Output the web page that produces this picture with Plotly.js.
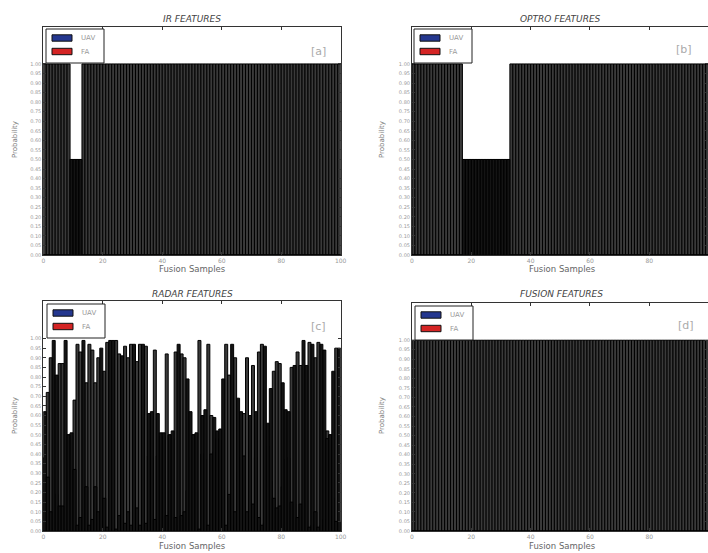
<!DOCTYPE html>
<html>
<head>
<meta charset="utf-8">
<script src="https://cdn.plot.ly/plotly-3.0.1.min.js"></script>
<style>html,body{margin:0;padding:0;background:#fff}#chart{width:708px;height:553px}</style>
</head>
<body>
<div id="chart"></div>
<script>
// ---- data ----
const samples = [
 0,1,2,3,4,5,6,7,8,9,10,11,12,13,14,15,16,17,18,19,
 20,21,22,23,24,25,26,27,28,29,30,31,32,33,34,35,36,37,38,39,
 40,41,42,43,44,45,46,47,48,49,50,51,52,53,54,55,56,57,58,59,
 60,61,62,63,64,65,66,67,68,69,70,71,72,73,74,75,76,77,78,79,
 80,81,82,83,84,85,86,87,88,89,90,91,92,93,94,95,96,97,98,99];

const irUAV = [
 1,1,1,1,1,1,1,1,1,0.5, 0.5,0.5,0.5,1,1,1,1,1,1,1,
 1,1,1,1,1,1,1,1,1,1, 1,1,1,1,1,1,1,1,1,1,
 1,1,1,1,1,1,1,1,1,1, 1,1,1,1,1,1,1,1,1,1,
 1,1,1,1,1,1,1,1,1,1, 1,1,1,1,1,1,1,1,1,1,
 1,1,1,1,1,1,1,1,1,1, 1,1,1,1,1,1,1,1,1,1];
const irFA = [
 0,0,0,0,0,0,0,0,0,0.5, 0.5,0.5,0.5,0,0,0,0,0,0,0,
 0,0,0,0,0,0,0,0,0,0, 0,0,0,0,0,0,0,0,0,0,
 0,0,0,0,0,0,0,0,0,0, 0,0,0,0,0,0,0,0,0,0,
 0,0,0,0,0,0,0,0,0,0, 0,0,0,0,0,0,0,0,0,0,
 0,0,0,0,0,0,0,0,0,0, 0,0,0,0,0,0,0,0,0,0];

const optroUAV = [
 1,1,1,1,1,1,1,1,1,1, 1,1,1,1,1,1,1,0.5,0.5,0.5,
 0.5,0.5,0.5,0.5,0.5,0.5,0.5,0.5,0.5,0.5, 0.5,0.5,0.5,1,1,1,1,1,1,1,
 1,1,1,1,1,1,1,1,1,1, 1,1,1,1,1,1,1,1,1,1,
 1,1,1,1,1,1,1,1,1,1, 1,1,1,1,1,1,1,1,1,1,
 1,1,1,1,1,1,1,1,1,1, 1,1,1,1,1,1,1,1,1,1];
const optroFA = [
 0,0,0,0,0,0,0,0,0,0, 0,0,0,0,0,0,0,0.5,0.5,0.5,
 0.5,0.5,0.5,0.5,0.5,0.5,0.5,0.5,0.5,0.5, 0.5,0.5,0.5,0,0,0,0,0,0,0,
 0,0,0,0,0,0,0,0,0,0, 0,0,0,0,0,0,0,0,0,0,
 0,0,0,0,0,0,0,0,0,0, 0,0,0,0,0,0,0,0,0,0,
 0,0,0,0,0,0,0,0,0,0, 0,0,0,0,0,0,0,0,0,0];

const radarUAV = [
 0.38,0.72,0.90,0.01,0.19,0.87,0.87,0.01,0.50,0.49,
 0.68,0.97,0.93,0.01,0.77,0.97,0.94,0.77,0.90,0.05,
 0.83,0.98,0.01,0.01,0.99,0.92,0.09,0.96,0.90,0.97,
 0.03,0.88,0.97,0.03,0.96,0.39,0.38,0.94,0.39,0.49,
 0.49,0.92,0.50,0.48,0.93,0.03,0.92,0.90,0.21,0.38,
 0.50,0.49,0.99,0.40,0.37,0.97,0.60,0.41,0.48,0.47,
 0.21,0.97,0.81,0.03,0.90,0.31,0.38,0.61,0.90,0.40,
 0.86,0.38,0.93,0.97,0.04,0.44,0.26,0.83,0.88,0.87,
 0.23,0.37,0.38,0.85,0.14,0.93,0.86,0.01,0.14,0.98,
 0.03,0.90,0.98,0.03,0.06,0.52,0.50,0.17,0.95,0.05];
const radarFA = [
 0.62,0.28,0.10,0.99,0.81,0.13,0.13,0.99,0.50,0.51,
 0.32,0.03,0.07,0.99,0.23,0.03,0.06,0.23,0.10,0.95,
 0.17,0.02,0.99,0.99,0.01,0.08,0.91,0.04,0.10,0.03,
 0.97,0.12,0.03,0.97,0.04,0.61,0.62,0.06,0.61,0.51,
 0.51,0.08,0.50,0.52,0.07,0.97,0.08,0.10,0.79,0.62,
 0.50,0.51,0.01,0.60,0.63,0.03,0.40,0.59,0.52,0.53,
 0.79,0.03,0.19,0.97,0.10,0.69,0.62,0.39,0.10,0.60,
 0.14,0.62,0.07,0.03,0.96,0.56,0.74,0.17,0.12,0.13,
 0.77,0.63,0.62,0.15,0.86,0.07,0.14,0.99,0.86,0.02,
 0.97,0.10,0.02,0.97,0.94,0.48,0.50,0.83,0.05,0.95];

const fusionUAV = [
 1,1,1,1,1,1,1,1,1,1, 1,1,1,1,1,1,1,1,1,1,
 1,1,1,1,1,1,1,1,1,1, 1,1,1,1,1,1,1,1,1,1,
 1,1,1,1,1,1,1,1,1,1, 1,1,1,1,1,1,1,1,1,1,
 1,1,1,1,1,1,1,1,1,1, 1,1,1,1,1,1,1,1,1,1,
 1,1,1,1,1,1,1,1,1,1, 1,1,1,1,1,1,1,1,1,1];
const fusionFA = [
 0,0,0,0,0,0,0,0,0,0, 0,0,0,0,0,0,0,0,0,0,
 0,0,0,0,0,0,0,0,0,0, 0,0,0,0,0,0,0,0,0,0,
 0,0,0,0,0,0,0,0,0,0, 0,0,0,0,0,0,0,0,0,0,
 0,0,0,0,0,0,0,0,0,0, 0,0,0,0,0,0,0,0,0,0,
 0,0,0,0,0,0,0,0,0,0, 0,0,0,0,0,0,0,0,0,0];

const panelTitles = ['IR FEATURES','OPTRO FEATURES','RADAR FEATURES','FUSION FEATURES'];
const panelTags = ['[a]','[b]','[c]','[d]'];
const seriesNames = ['UAV','FA'];
const seriesColors = ['#24378f', '#d42424'];
const xTicks = [0,20,40,60,80,100];
const yTicks = [0,0.05,0.10,0.15,0.20,0.25,0.30,0.35,0.40,0.45,0.50,0.55,0.60,0.65,0.70,0.75,0.80,0.85,0.90,0.95,1.00];

// ---- layout geometry (px) ----
const W = 708, H = 553;
const panels = [
  {uav: irUAV, fa: irFA, x0: 43.3, x1: 340.7, top: 26.7, bot: 255, xmax: 100, leg: [46, 29], tag: [318, 51], title: [192, 19], xt: [192, 269], yt: [15, 140], ax: ''},
  {uav: optroUAV, fa: optroFA, x0: 412, x1: 708, top: 26.7, bot: 255, xmax: 99.8, leg: [414, 29], tag: [684, 50], title: [560, 19], xt: [562, 269], yt: [382, 140], ax: '2'},
  {uav: radarUAV, fa: radarFA, x0: 43.3, x1: 340.7, top: 301, bot: 531, xmax: 100, leg: [47, 304], tag: [318, 326], title: [192, 294], xt: [192, 546], yt: [15, 416], ax: '3'},
  {uav: fusionUAV, fa: fusionFA, x0: 412, x1: 708, top: 303, bot: 531, xmax: 99.8, leg: [415, 306], tag: [686, 325], title: [561, 294], xt: [562, 546], yt: [382, 416], ax: '4'}
];

const px = v => v / W, py = v => 1 - v / H;
const traces = [];
const layout = {
  width: W, height: H,
  margin: {l: 0, r: 0, t: 0, b: 0},
  paper_bgcolor: '#fff', plot_bgcolor: '#fff',
  barmode: 'overlay',
  showlegend: false,
  font: {family: 'DejaVu Sans, sans-serif'},
  annotations: [],
  shapes: []
};

panels.forEach((p, i) => {
  const xa = 'x' + p.ax, ya = 'y' + p.ax;
  traces.push({
    type: 'bar', x: samples, y: p.uav, width: 1, offset: 0, name: seriesNames[0],
    xaxis: xa, yaxis: ya, hoverinfo: 'skip',
    marker: {color: '#3a3a3a', line: {color: '#000', width: 1}}
  });
  traces.push({
    type: 'bar', x: samples, y: p.fa, width: 1, offset: 0, name: seriesNames[1],
    xaxis: xa, yaxis: ya, hoverinfo: 'skip',
    marker: {color: '#141414', line: {color: '#000', width: 1}}
  });

  layout['xaxis' + p.ax] = {
    domain: [px(p.x0), Math.min(1, px(p.x1))], anchor: ya,
    range: [0, p.xmax], tickmode: 'array', tickvals: xTicks,
    ticks: 'inside', ticklen: 3, tickcolor: '#333', tickwidth: 1,
    showline: true, linecolor: '#333', linewidth: 1, mirror: 'ticks',
    showgrid: false, zeroline: false,
    tickfont: {size: 6, color: '#999'}
  };
  layout['yaxis' + p.ax] = {
    domain: [py(p.bot), py(p.top)], anchor: xa,
    range: [0, 1.195], tickmode: 'array', tickvals: yTicks, tickformat: '.2f',
    ticks: 'inside', ticklen: 3, tickcolor: '#333', tickwidth: 1,
    showline: true, linecolor: '#333', linewidth: 1, mirror: 'ticks',
    showgrid: false, zeroline: false,
    tickfont: {size: 5, color: '#999'}
  };

  // legend box (drawn as shapes + text)
  const lx = p.leg[0], ly = p.leg[1];
  layout.shapes.push({type: 'rect', xref: 'paper', yref: 'paper', layer: 'above',
    x0: px(lx), x1: px(lx + 58), y0: py(ly + 34), y1: py(ly),
    fillcolor: '#fff', line: {color: '#222', width: 1}});
  seriesNames.forEach((nm, k) => {
    const cy = ly + 9 + k * 13.5;
    layout.shapes.push({type: 'rect', xref: 'paper', yref: 'paper', layer: 'above',
      x0: px(lx + 6), x1: px(lx + 26), y0: py(cy + 3.2), y1: py(cy - 3.2),
      fillcolor: seriesColors[k], line: {color: '#111', width: 1}});
    layout.annotations.push({xref: 'paper', yref: 'paper', x: px(lx + 33), y: py(cy),
      text: nm, showarrow: false, xanchor: 'left', yanchor: 'middle',
      font: {size: 7, color: '#999'}});
  });

  layout.annotations.push(
    {xref: 'paper', yref: 'paper', x: px(p.title[0]), y: py(p.title[1]), text: panelTitles[i],
     showarrow: false, xanchor: 'center', yanchor: 'middle',
     font: {size: 9, color: '#444', style: 'italic'}},
    {xref: 'paper', yref: 'paper', x: px(p.tag[0]), y: py(p.tag[1]), text: panelTags[i],
     showarrow: false, xanchor: 'center', yanchor: 'middle',
     font: {size: 11, color: '#aaa'}},
    {xref: 'paper', yref: 'paper', x: px(p.xt[0]), y: py(p.xt[1]), text: 'Fusion Samples',
     showarrow: false, xanchor: 'center', yanchor: 'middle',
     font: {size: 8.5, color: '#666'}},
    {xref: 'paper', yref: 'paper', x: px(p.yt[0]), y: py(p.yt[1]), text: 'Probability',
     showarrow: false, xanchor: 'center', yanchor: 'middle', textangle: -90,
     font: {size: 7, color: '#777'}}
  );
});

Plotly.newPlot('chart', traces, layout, {displayModeBar: false, staticPlot: true});
</script>
</body>
</html>
